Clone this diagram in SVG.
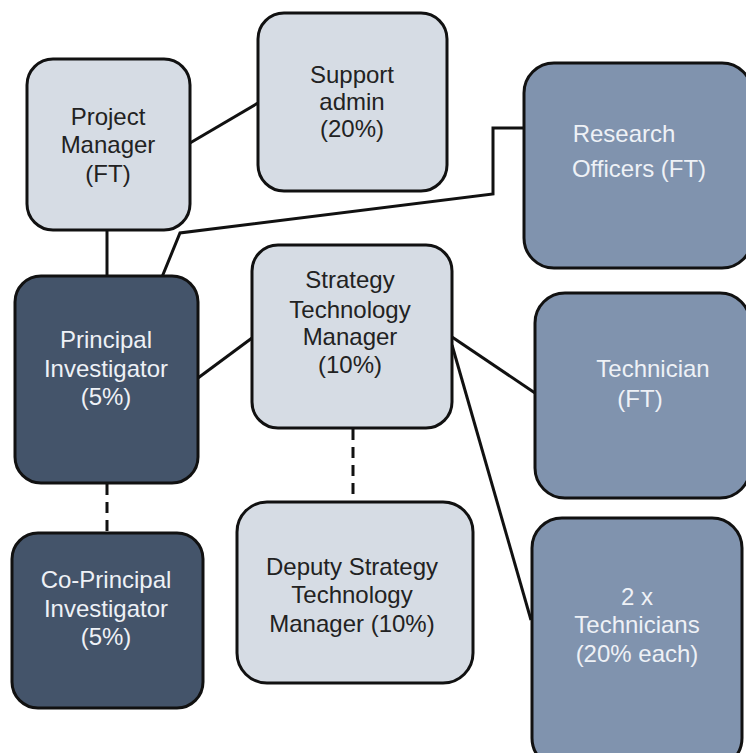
<svg xmlns="http://www.w3.org/2000/svg" width="746" height="753" viewBox="0 0 746 753">
<style>
.box{stroke:#111;stroke-width:3}
.light{fill:#d6dce4}
.dark{fill:#44546a}
.mid{fill:#8093ae}
text{font-family:"Liberation Sans",Arial,sans-serif;font-size:24px;text-anchor:middle}
.tl{fill:#222}
.tw{fill:#eef1f6}
.con{stroke:#111;stroke-width:3;fill:none}
.dash{stroke-dasharray:11 7}
</style>
<rect width="746" height="753" fill="#fff"/>
<g id="connectors">
<line class="con" x1="190" y1="143" x2="258" y2="103"/>
<line class="con" x1="107" y1="230" x2="107" y2="276"/>
<polyline class="con" points="162,277 180,233 493,194 493,128 524,128"/>
<line class="con" x1="198" y1="378" x2="252" y2="338"/>
<line class="con" x1="452" y1="337" x2="535" y2="393"/>
<line class="con" x1="452" y1="345" x2="531" y2="620"/>
<line class="con dash" x1="107" y1="484" x2="107" y2="532"/>
<line class="con dash" x1="353" y1="429" x2="353" y2="501"/>
</g>
<g id="project-manager">
<rect class="box light" x="27" y="59" width="163" height="171" rx="26"/>
<text class="tl" x="108" y="125">Project</text>
<text class="tl" x="108" y="153">Manager</text>
<text class="tl" x="108" y="182">(FT)</text>
</g>
<g id="support-admin">
<rect class="box light" x="258" y="13" width="189" height="178" rx="26"/>
<text class="tl" x="352" y="83">Support</text>
<text class="tl" x="352" y="110">admin</text>
<text class="tl" x="352" y="137">(20%)</text>
</g>
<g id="research-officers">
<rect class="box mid" x="524" y="63" width="228" height="205" rx="30"/>
<text class="tw" x="624" y="142">Research</text>
<text class="tw" x="639" y="177">Officers (FT)</text>
</g>
<g id="principal-investigator">
<rect class="box dark" x="15" y="276" width="183" height="207" rx="26"/>
<text class="tw" x="106" y="348">Principal</text>
<text class="tw" x="106" y="377">Investigator</text>
<text class="tw" x="106" y="405">(5%)</text>
</g>
<g id="strategy-technology-manager">
<rect class="box light" x="252" y="245" width="200" height="183" rx="26"/>
<text class="tl" x="350" y="288">Strategy</text>
<text class="tl" x="350" y="318">Technology</text>
<text class="tl" x="350" y="345">Manager</text>
<text class="tl" x="350" y="373">(10%)</text>
</g>
<g id="technician">
<rect class="box mid" x="535" y="293" width="215" height="205" rx="30"/>
<text class="tw" x="653" y="377">Technician</text>
<text class="tw" x="640" y="407">(FT)</text>
</g>
<g id="co-principal-investigator">
<rect class="box dark" x="12" y="533" width="191" height="175" rx="26"/>
<text class="tw" x="106" y="588">Co-Principal</text>
<text class="tw" x="106" y="617">Investigator</text>
<text class="tw" x="106" y="645">(5%)</text>
</g>
<g id="deputy-strategy-technology-manager">
<rect class="box light" x="237" y="502" width="236" height="181" rx="30"/>
<text class="tl" x="352" y="575">Deputy Strategy</text>
<text class="tl" x="352" y="603">Technology</text>
<text class="tl" x="352" y="632">Manager (10%)</text>
</g>
<g id="two-technicians">
<rect class="box mid" x="532" y="518" width="210" height="250" rx="30"/>
<text class="tw" x="637" y="605">2 x</text>
<text class="tw" x="637" y="633">Technicians</text>
<text class="tw" x="637" y="662">(20% each)</text>
</g>
</svg>
